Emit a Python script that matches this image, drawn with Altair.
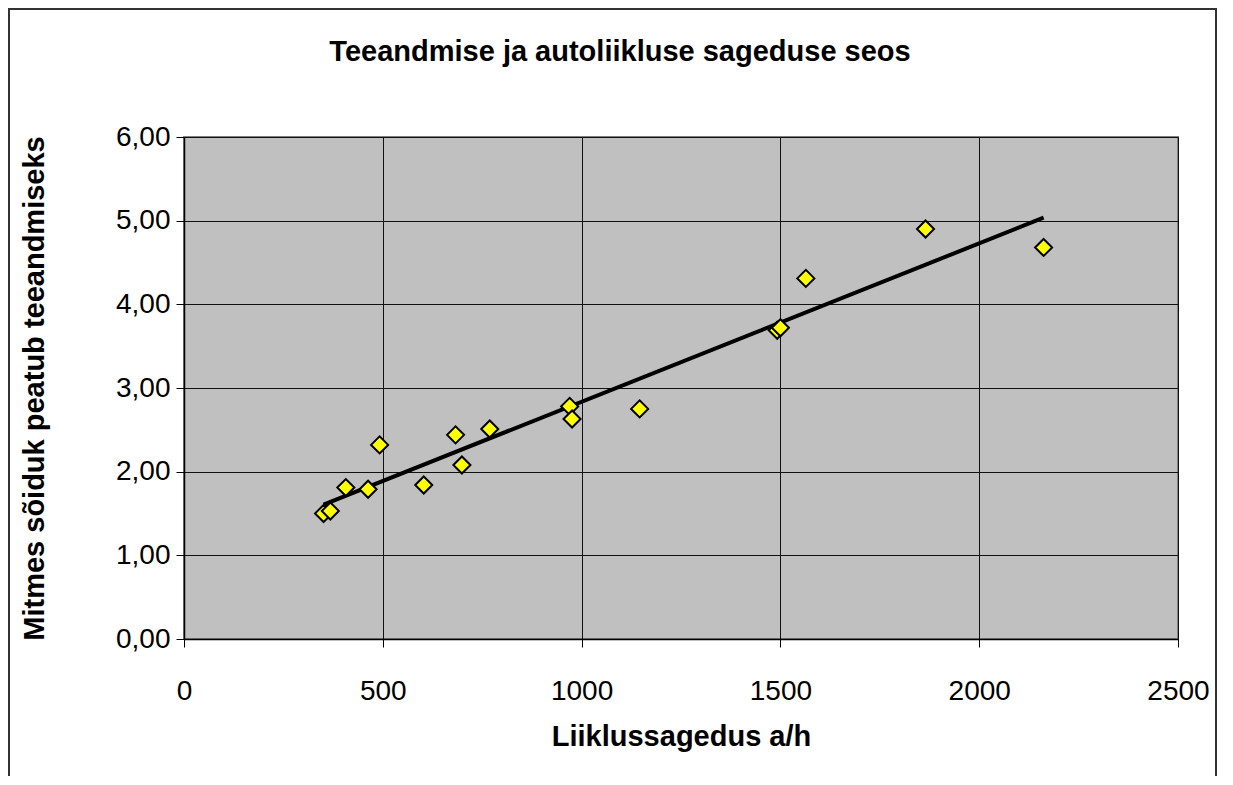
import altair as alt
import pandas as pd

# Data
traffic = [351, 368, 407, 463, 492, 603, 683, 699, 769, 970, 976, 1146, 1492, 1500, 1564, 1865, 2162]
stops = [1.50, 1.53, 1.81, 1.79, 2.32, 1.84, 2.44, 2.08, 2.51, 2.78, 2.63, 2.75, 3.69, 3.72, 4.31, 4.90, 4.68]

x_ticks = [0, 500, 1000, 1500, 2000, 2500]
y_ticks = [0, 1, 2, 3, 4, 5, 6]

chart_title = "Teeandmise ja autoliikluse sageduse seos"
x_title = "Liiklussagedus a/h"
y_title = "Mitmes sõiduk peatub teeandmiseks"

df = pd.DataFrame({"x": traffic, "y": stops})

font = "Liberation Sans"

xscale = alt.Scale(domain=[0, 2500], nice=False)
yscale = alt.Scale(domain=[0, 6], nice=False)

base = alt.Chart(df)

points = base.mark_point(
    shape="diamond", filled=True, fill="#FFFF00", stroke="black",
    strokeWidth=2, size=290, opacity=1
).encode(
    x=alt.X("x:Q", scale=xscale,
            axis=alt.Axis(values=x_ticks, title=x_title, format="d",
                          labelFlush=False,
                          titleY=106, titleBaseline="alphabetic")),
    y=alt.Y("y:Q", scale=yscale,
            axis=alt.Axis(values=y_ticks, title=y_title,
                          labelExpr="replace(format(datum.value, '.2f'), '.', ',')",
                          labelFlush=False,
                          titleX=-141, titleY=251, titleBaseline="alphabetic")),
)

trend = base.transform_regression("x", "y", method="linear").mark_line(
    color="black", strokeWidth=4, clip=False
).encode(
    x=alt.X("x:Q", scale=xscale),
    y=alt.Y("y:Q", scale=yscale),
)

border = alt.Chart(df).mark_rect(
    fill=None, stroke="#333333", strokeWidth=1.5, clip=False
).encode(
    x=alt.value(-175), x2=alt.value(1032),
    y=alt.value(-128), y2=alt.value(700),
)

title_mark = alt.Chart(pd.DataFrame({"t": [chart_title]})).mark_text(
    font=font, fontSize=29, fontWeight="bold", color="black",
    align="center", baseline="alphabetic", clip=False
).encode(
    text="t:N", x=alt.value(436), y=alt.value(-76),
)

chart = alt.layer(border, trend, points, title_mark).properties(
    width=994, height=502,
    autosize=alt.AutoSizeParams(type="none"),
    padding={"left": 176, "top": 129, "right": 39, "bottom": 137},
    background="white",
).configure_view(
    fill="#C0C0C0", stroke="#808080", strokeWidth=2,
).configure_axis(
    grid=True, gridColor="#111111", gridWidth=1, gridOpacity=1,
    domainColor="black", domainWidth=1.5,
    tickColor="black", tickSize=8, tickWidth=1,
    labelFont=font, labelFontSize=28, labelColor="black",
    titleFont=font, titleFontSize=29, titleFontWeight="bold", titleColor="black",
).configure_axisX(
    labelPadding=30,
).configure_axisY(
    labelPadding=6,
)

chart.save("out.html", embed_options={"renderer": "svg", "actions": False})
